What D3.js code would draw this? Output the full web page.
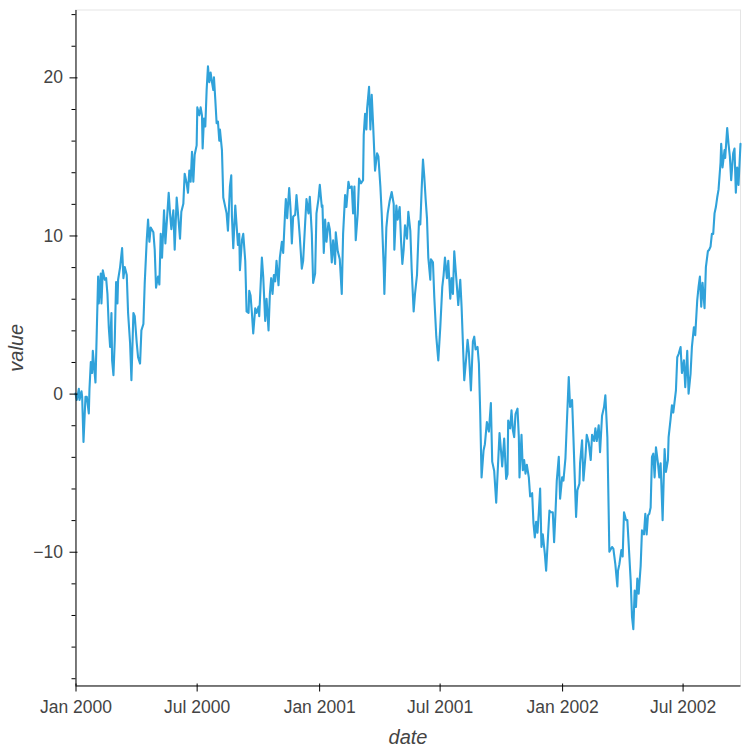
<!DOCTYPE html>
<html><head><meta charset="utf-8">
<script src="https://cdn.jsdelivr.net/npm/d3@7"></script>
<style>body{margin:0;background:#fff}svg{display:block}</style>
</head><body><svg id="chart" width="750" height="750"></svg>
<script>
// [days since 2000-01-01, value]
const points = [
[0,0.0],[2,-0.4],[5,0.3],[6,-0.4],[9,0.15],[10,-0.2],[12,-3.06],[15,-0.2],[17,-0.2],[20,-1.25],
[21,0.3],[23,2.0],[25,1.3],[26,2.7],[28,1.7],[30,0.7],[32,4.0],[34,7.4],[35,5.7],[38,7.6],
[39,5.7],[41,7.8],[44,7.2],[46,7.3],[48,6.3],[50,4.2],[52,2.95],[54,5.1],[55,2.1],[57,1.16],
[59,3.4],[61,7.06],[63,5.7],[64,7.2],[67,8.0],[70,9.2],[72,7.3],[74,8.0],[77,7.5],[79,5.1],
[82,3.2],[84,0.84],[87,5.1],[89,4.9],[92,3.2],[94,2.3],[97,1.9],[99,4.0],[102,4.4],[104,7.0],
[107,9.7],[109,11.0],[111,9.6],[113,10.5],[117,10.2],[119,9.1],[121,6.7],[124,7.4],[126,6.9],[128,10.1],
[130,8.6],[133,11.6],[135,9.5],[138,11.4],[140,12.7],[142,11.4],[144,10.4],[147,11.6],[149,9.1],[152,12.4],
[154,11.4],
[157,9.8],[159,11.5],[162,12.0],[164,13.9],[167,13.3],[169,12.7],[171,14.1],[173,13.4],[175,15.3],[177,13.4],
[179,15.1],[182,15.7],[183,18.1],[186,17.6],[188,18.1],[190,17.6],[191,15.5],[193,17.4],[195,16.9],[197,19.2],
[199,20.7],[201,19.7],[203,20.3],[205,19.7],[207,19.2],[208,20.0],[210,18.6],[212,17.1],[214,17.2],[216,16.0],
[217,16.7],[220,15.4],[222,12.4],[224,12.0],[227,11.4],[229,10.3],[232,13.1],[234,13.8],[235,11.2],[237,9.2],
[240,11.9],[242,10.65],[244,9.4],[246,10.1],[247,7.8],[250,9.7],[252,10.1],[255,8.4],[257,5.2],[260,5.1],
[261,6.5],[263,6.2],[265,5.1],[267,3.8],[270,5.4],[272,5.1],[275,5.5],[276,4.9],[280,8.6],[282,7.4],
[285,4.6],[287,6.0],[290,4.0],[292,6.3],[294,7.3],[296,6.3],[298,7.5],[300,7.1],[302,8.4],[305,6.85],
[307,8.6],[310,9.6],[312,8.9],
[315,11.6],[316,12.3],[318,11.1],[321,13.0],[323,11.7],[325,9.5],[327,11.2],[330,11.3],[332,12.55],[335,11.0],
[337,9.9],[340,7.9],[342,8.4],[345,10.8],[347,12.3],[350,11.4],[352,12.45],[355,10.1],[357,7.0],[360,7.6],
[362,11.4],[365,12.3],[367,13.2],[370,11.8],[371,11.9],[373,8.9],[375,11.0],[377,9.6],[380,10.8],[382,10.4],
[385,8.3],[387,9.7],[390,8.2],[391,10.2],[394,9.0],[397,8.5],[400,6.3],[402,10.1],[405,12.55],[407,11.8],
[410,13.4],[412,13.0],[415,13.1],[417,11.4],[419,13.1],[421,9.7],[424,11.4],[426,13.6],[429,13.3],[432,13.5],
[433,16.35],[435,17.7],[437,16.7],[438,18.0],[441,19.4],[443,16.7],[445,18.9],[447,17.1],[450,14.1],[453,15.2],
[455,15.0],[458,13.1],[460,11.4],[463,8.0],[464,6.3],[467,10.5],[469,11.4],[472,12.2],
[475,12.75],[478,12.0],[479,9.1],[482,11.9],[484,11.0],[487,11.8],[489,9.7],[491,8.2],[493,9.1],[495,10.65],
[498,9.8],[500,11.5],[503,10.3],[505,7.9],[508,5.2],[510,6.3],[513,7.5],[516,10.9],[518,10.7],[520,12.9],
[522,14.8],[524,13.7],[526,12.3],[528,11.1],[530,8.6],[533,7.2],[534,8.5],[537,8.3],[539,6.1],[542,3.6],
[545,2.1],[548,4.2],[551,6.75],[553,7.5],[555,8.6],[558,7.3],[560,8.4],[563,6.0],[565,7.3],[567,6.3],
[569,9.0],[573,6.75],[575,5.6],[578,7.2],[580,5.5],[584,0.84],[587,2.3],[589,3.4],[591,2.6],[594,0.2],
[597,3.3],[599,3.6],[601,2.8],[604,2.95],[606,1.9],[608,-1.27],[610,-5.3],[613,-3.6],[615,-3.2],[618,-1.8],
[621,-2.4],[624,-0.6],[626,-4.3],[629,-4.9],[632,-6.9],
[637,-2.5],[640,-4.0],[641,-4.6],[644,-2.85],[647,-5.4],[649,-5.1],[650,-1.7],[653,-2.2],[655,-1.06],[657,-2.3],
[659,-2.75],[661,-1.3],[664,-0.95],[666,-2.75],[667,-5.3],[670,-2.6],[672,-4.85],[674,-4.2],[676,-5.06],[678,-4.5],
[681,-5.3],[683,-6.5],[686,-6.3],[688,-8.2],[690,-9.1],[692,-8.1],[694,-8.8],[696,-7.5],[698,-6.0],[700,-9.7],
[702,-8.9],[705,-10.1],[707,-11.2],[710,-8.9],[712,-7.4],[714,-7.5],[717,-7.5],[719,-9.4],[721,-7.6],[723,-5.5],
[726,-4.0],[728,-6.65],[731,-5.3],[733,-5.5],[736,-4.1],[738,-2.0],[741,1.05],[743,-0.85],[746,-0.4],[748,-2.75],
[752,-7.8],[754,-6.1],[757,-5.7],[758,-4.4],[761,-2.95],[763,-5.5],[766,-4.0],[768,-2.6],[771,-3.1],[774,-4.2],
[776,-2.6],[779,-3.0],[781,-2.2],[783,-3.0],[786,-2.0],[788,-3.7],[791,-1.4],[794,-0.85],[796,-0.1],[799,-2.75],
[802,-10.0],
[806,-9.7],[808,-9.8],[811,-10.8],[814,-12.2],[815,-11.2],[817,-10.8],[820,-9.9],[822,-10.3],[824,-7.5],[827,-8.0],
[829,-8.0],[831,-9.5],[834,-11.8],[836,-14.1],[838,-14.9],[840,-12.45],[842,-13.5],[844,-11.7],[846,-12.65],[849,-10.9],
[851,-8.65],[854,-8.9],[856,-7.6],[858,-8.9],[860,-7.7],[862,-7.6],[864,-7.2],[866,-4.0],[868,-3.8],[870,-5.3],
[872,-3.4],[875,-4.4],[877,-5.3],[879,-4.4],[882,-8.0],[884,-4.85],[885,-3.5],[887,-4.95],[890,-4.2],[891,-2.75],
[894,-1.6],[896,-0.74],[898,-1.2],[900,-0.5],[902,0.2],[904,2.3],[906,2.5],
[909,2.95],[911,1.3],[914,2.1],[916,0.4],[919,2.7],[921,0.0],[924,1.27],[926,2.95],[929,4.2],[931,3.7],
[934,5.9],[936,6.75],[938,7.4],[940,5.5],[942,7.0],[945,5.4],[947,8.0],[950,9.0],[952,9.1],[954,9.3],
[956,10.1],[958,10.1],[960,11.4],[962,11.8],[964,12.4],[966,12.9],[969,14.6],[970,15.8],[972,14.3],[975,15.4],
[976,14.9],[979,16.8],[981,15.8],[983,15.0],[985,13.5],[988,15.2],[990,15.5],[992,12.7],[994,14.3],[996,13.2],
[999,15.8]
];
const startDate = Date.UTC(2000, 0, 1);
const yMajorTicks = [-10, 0, 10, 20];
const yMinorStep = 2;
const xTickDates = ["2000-01-01","2000-07-01","2001-01-01","2001-07-01","2002-01-01","2002-07-01"];
const xTitle = "date", yTitle = "value";

const W = 750, H = 750;
const margin = {left: 75.5, top: 10, right: 9.5, bottom: 64.5};
const iw = W - margin.left - margin.right;
const ih = H - margin.top - margin.bottom;
const FONT = "'Liberation Sans', Arial, Helvetica, sans-serif";
const TXT = "#444444";
const TICK_FS = "17.5px", TITLE_FS = "20px";

const data = points.map(([d, v]) => ({date: new Date(startDate + d * 864e5), value: v}));

const x = d3.scaleUtc().domain(d3.extent(data, d => d.date)).range([0, iw]);
const [vmin, vmax] = d3.extent(data, d => d.value);
const pad = (vmax - vmin) * 0.1;
const y = d3.scaleLinear().domain([vmin - pad, vmax + pad]).range([ih, 0]);

const svg = d3.select("#chart");
const g = svg.append("g").attr("transform", `translate(${margin.left},${margin.top})`);

// frame outline
g.append("rect").attr("x", 0).attr("y", 0).attr("width", iw).attr("height", ih)
  .attr("fill", "none").attr("stroke", "#e5e5e5").attr("stroke-width", 1);

// line
g.append("path").datum(data)
  .attr("fill", "none").attr("stroke", "#30a2da").attr("stroke-width", 2.1)
  .attr("stroke-linejoin", "round").attr("stroke-linecap", "round")
  .attr("d", d3.line().x(d => x(d.date)).y(d => y(d.value)));

// y minor ticks
const [d0, d1] = y.domain();
const minor = d3.range(Math.ceil(d0 / yMinorStep) * yMinorStep, d1, yMinorStep)
  .filter(v => !yMajorTicks.includes(v));
g.append("g").call(d3.axisLeft(y).tickValues(minor).tickSize(4).tickSizeOuter(0).tickFormat(""))
  .call(a => a.select(".domain").remove())
  .call(a => a.selectAll("line").attr("stroke", "#000"));

// y axis major
const yAx = g.append("g").call(d3.axisLeft(y).tickValues(yMajorTicks).tickSizeOuter(0).tickPadding(6));
yAx.selectAll(".tick line").attr("x1", 2).attr("x2", -6).attr("stroke", "#000");
yAx.select(".domain").attr("stroke", "#000").attr("d", `M0.5,0V${ih}`);
yAx.selectAll(".tick text").attr("x", -12.5).attr("fill", TXT)
  .style("font-family", FONT).style("font-size", TICK_FS);

// x axis
const xAx = g.append("g").attr("transform", `translate(0,${ih})`)
  .call(d3.axisBottom(x).tickValues(xTickDates.map(s => new Date(s + "T00:00:00Z")))
    .tickFormat(d3.utcFormat("%b %Y")).tickSizeOuter(0));
xAx.selectAll(".tick line").attr("y1", -2).attr("y2", 6).attr("stroke", "#000");
xAx.select(".domain").attr("stroke", "#000").attr("d", `M0,0.5H${iw}`);
xAx.selectAll(".tick text").attr("y", 15).attr("fill", TXT)
  .style("font-family", FONT).style("font-size", TICK_FS);

// titles
svg.append("text").attr("x", margin.left + iw / 2).attr("y", 744)
  .attr("text-anchor", "middle").attr("fill", TXT)
  .style("font-family", FONT).style("font-size", TITLE_FS).style("font-style", "italic")
  .text(xTitle);
svg.append("text").attr("transform", `translate(23,${margin.top + ih / 2}) rotate(-90)`)
  .attr("text-anchor", "middle").attr("fill", TXT)
  .style("font-family", FONT).style("font-size", TITLE_FS).style("font-style", "italic")
  .text(yTitle);
</script></body></html>
